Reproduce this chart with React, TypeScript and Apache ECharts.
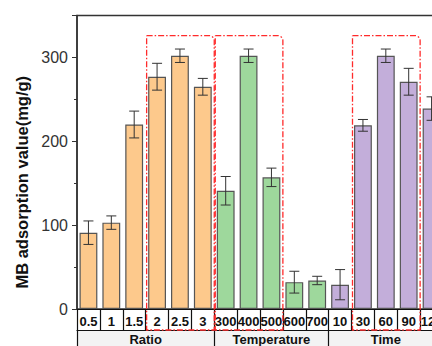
import React, { useEffect, useRef } from "react";
import * as echarts from "echarts";

const categories = ["0.5", "1", "1.5", "2", "2.5", "3", "300", "400", "500", "600", "700", "10", "30", "60", "90", "120"];
const groupOf = [0, 0, 0, 0, 0, 0, 1, 1, 1, 1, 1, 2, 2, 2, 2, 2];
const values = [91, 103, 220, 277, 302, 265, 141, 302, 157, 32, 34, 29, 219, 302, 271, 239];
const errors = [14, 8, 16, 16, 8, 10, 17, 8, 11, 13, 5, 18, 7, 8, 16, 14];
const groupNames = ["Ratio", "Temperature", "Time"];
const groupStarts = [0, 6, 11, 16];
const groupColors = ["#FDC98C", "#9ED89C", "#C3AEDA"];
const highlightRanges = [[3, 5], [6, 8], [12, 14]];
const highlightTop = 326;

const FONT = "'Liberation Sans', Arial, sans-serif";

export default function App() {
  const ref = useRef<HTMLDivElement>(null);
  useEffect(() => {
    document.body.style.margin = "0";
    if (!ref.current) return;
    const chart = echarts.init(ref.current, null, { renderer: "svg" });
    const barData = values.map((v, i) => ({
      value: v,
      itemStyle: { color: groupColors[groupOf[i]] },
    }));
    const errData = values.map((v, i) => [i, v - errors[i], v + errors[i]]);
    const groupCenters = groupNames.map((_, g) => (groupStarts[g] + groupStarts[g + 1]) / 2);
    chart.setOption({
      animation: false,
      grid: {
        left: 77,
        top: 15.5,
        width: 366,
        bottom: 37,
        show: true,
        borderColor: "#333",
        borderWidth: 1.5,
        containLabel: false,
        outerBoundsMode: "none",
      },
      xAxis: [
        {
          type: "category",
          data: categories,
          position: "bottom",
          axisLine: { show: true, lineStyle: { color: "#111", width: 1.2 } },
          axisTick: { show: true, interval: 0, alignWithLabel: false, length: 21, lineStyle: { color: "#111", width: 1.2 } },
          axisLabel: {
            interval: 0,
            margin: 6,
            fontSize: 13,
            fontWeight: "bold",
            color: "#111",
            fontFamily: FONT,
          },
          splitLine: { show: false },
        },
        {
          type: "value",
          position: "bottom",
          offset: 21,
          min: 0,
          max: 16,
          axisLine: { show: true, onZero: false, lineStyle: { color: "#111", width: 1.2 } },
          axisTick: { show: true, customValues: groupStarts, length: 20, lineStyle: { color: "#111", width: 1.2 } },
          axisLabel: {
            customValues: groupCenters,
            formatter: (v: number) => {
              const idx = groupCenters.findIndex((c) => Math.abs(c - v) < 1e-6);
              return idx >= 0 ? groupNames[idx] : "";
            },
            margin: 3,
            fontSize: 13,
            fontWeight: "bold",
            color: "#111",
            fontFamily: FONT,
          },
          splitLine: { show: false },
        },
      ],
      yAxis: {
        type: "value",
        min: 0,
        max: 350,
        interval: 100,
        name: "MB adsorption value(mg/g)",
        nameLocation: "middle",
        nameGap: 38,
        nameTextStyle: { fontSize: 16.5, fontWeight: "bold", color: "#111", fontFamily: FONT, padding: [0, 40, 0, 0] },
        axisLine: { show: true, lineStyle: { color: "#333", width: 1.5 } },
        axisTick: { show: true, inside: false, length: 5, lineStyle: { color: "#333" } },
        minorTick: { show: true, splitNumber: 2, length: 3, lineStyle: { color: "#333" } },
        axisLabel: {
          showMaxLabel: false,
          margin: 9,
          fontSize: 16,
          color: "#333",
          fontFamily: FONT,
        },
        splitLine: { show: false },
      },
      series: [
        {
          type: "bar",
          data: barData,
          barWidth: "78%",
          itemStyle: { borderColor: "#555", borderWidth: 1.2 },
          z: 2,
        },
        {
          type: "custom",
          data: errData,
          encode: { x: 0, y: [1, 2] },
          z: 3,
          renderItem: (params: any, api: any) => {
            const x = api.value(0);
            const lo = api.coord([x, api.value(1)]);
            const hi = api.coord([x, api.value(2)]);
            const w = 5;
            const style = { stroke: "#333", lineWidth: 1 };
            return {
              type: "group",
              children: [
                { type: "line", shape: { x1: lo[0], y1: lo[1], x2: hi[0], y2: hi[1] }, style },
                { type: "line", shape: { x1: lo[0] - w, y1: lo[1], x2: lo[0] + w, y2: lo[1] }, style },
                { type: "line", shape: { x1: hi[0] - w, y1: hi[1], x2: hi[0] + w, y2: hi[1] }, style },
              ],
            };
          },
        },
      ],
    });

    const c0 = chart.convertToPixel({ xAxisIndex: 0 }, 0) as number;
    const c1 = chart.convertToPixel({ xAxisIndex: 0 }, 1) as number;
    const bw = c1 - c0;
    const y0 = chart.convertToPixel({ yAxisIndex: 0 }, 0) as number;
    const yTop = chart.convertToPixel({ yAxisIndex: 0 }, highlightTop) as number;
    const rowBottom = y0 + 21;
    const left = c0 - bw / 2;
    const right = chart.convertToPixel({ xAxisIndex: 0 }, categories.length - 1) as number + bw / 2;
    const graphics: any[] = [
      {
        type: "rect",
        shape: { x: left, y: rowBottom, width: right - left, height: 30 },
        style: { fill: "#f3f3f3" },
        z: -1,
        silent: true,
      },
    ];
    highlightRanges.forEach(([a, b]) => {
      const xa = (chart.convertToPixel({ xAxisIndex: 0 }, a) as number) - bw / 2 + 1;
      const xb = (chart.convertToPixel({ xAxisIndex: 0 }, b) as number) + bw / 2;
      graphics.push({
        type: "rect",
        shape: { x: xa, y: yTop, width: xb - xa, height: rowBottom - yTop, r: [0, 5, 0, 0] },
        style: { fill: "none", stroke: "#FF2B2B", lineWidth: 1.3, lineDash: [6, 2, 1.5, 2] },
        z: 10,
        silent: true,
      });
    });
    chart.setOption({ graphic: graphics });

    return () => chart.dispose();
  }, []);
  return <div ref={ref} style={{ width: 432, height: 346 }} />;
}
